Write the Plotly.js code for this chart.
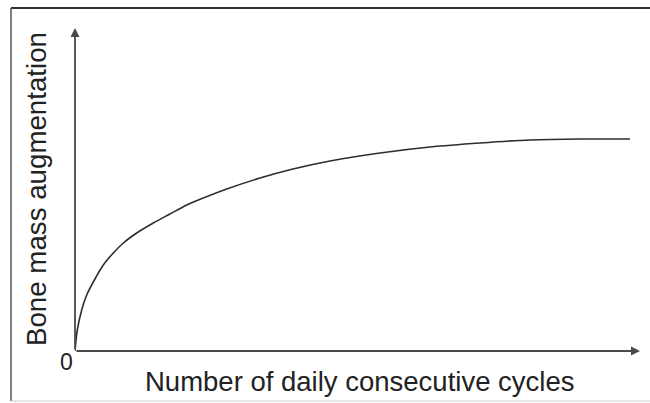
<!DOCTYPE html>
<html>
<head>
<meta charset="utf-8">
<script src="https://cdn.plot.ly/plotly-3.0.1.min.js"></script>
<style>html,body{margin:0;padding:0;background:#fff;}#chart{width:650px;height:403px;}</style>
</head>
<body>
<div id="chart"></div>
<script>
// Data (arbitrary units, no ticks shown)
const cycles    = [0, 2.3, 6.7, 11.7, 18.3, 28.3, 38.3, 48.3, 61.7, 78.3, 95, 111.7, 133.3, 151.7, 185, 218, 255, 305, 355, 405, 455, 505, 555];
const boneMass  = [0, 21, 41, 56, 69, 86, 98, 108, 118, 128, 137, 146, 155, 162, 173, 182, 190, 198, 204, 208, 211, 212, 212];
const xMax = 565;   // arrow tip of x axis
const yMax = 323;   // arrow tip of y axis
const xTitle = "Number of daily consecutive cycles";
const yTitle = "Bone mass augmentation";
const originLabel = "0";

const FONT = "Liberation Sans, Arial, Helvetica, sans-serif";
const axisColor = "#4a4a4a";

const trace = {
  x: cycles, y: boneMass, type: "scatter", mode: "lines",
  line: {color: "#2e2e2e", width: 1.6, shape: "spline", smoothing: 0.8},
  cliponaxis: false, hoverinfo: "skip"
};

const layout = {
  width: 650, height: 403,
  margin: {l: 75, r: 10, t: 28, b: 52, pad: 0},
  paper_bgcolor: "#fff", plot_bgcolor: "#fff",
  showlegend: false,
  xaxis: {range: [0, xMax], visible: false, fixedrange: true},
  yaxis: {range: [0, yMax], visible: false, fixedrange: true},
  font: {family: FONT, color: "#222"},
  annotations: [
    // x axis arrow
    {x: xMax, y: 0, ax: 0, ay: 0, xref: "x", yref: "y", axref: "x", ayref: "y",
     text: "", showarrow: true, arrowhead: 2, arrowsize: 1, arrowwidth: 1.8, arrowcolor: axisColor},
    // y axis arrow
    {x: 0, y: yMax, ax: 0, ay: 0, xref: "x", yref: "y", axref: "x", ayref: "y",
     text: "", showarrow: true, arrowhead: 2, arrowsize: 1, arrowwidth: 1.8, arrowcolor: axisColor},
    {x: (360-75)/565, y: (351-381)/323, xref: "paper", yref: "paper", xanchor: "center", yanchor: "middle",
     text: xTitle, showarrow: false, font: {size: 27.5, family: FONT, color: "#222"}},
    {x: (36-75)/565, y: (351-189)/323, xref: "paper", yref: "paper", xanchor: "center", yanchor: "middle",
     text: yTitle, textangle: -90, showarrow: false, font: {size: 27.7, family: FONT, color: "#222"}},
    {x: (66-75)/565, y: (351-362)/323, xref: "paper", yref: "paper", xanchor: "center", yanchor: "middle",
     text: originLabel, showarrow: false, font: {size: 23, family: FONT, color: "#222"}}
  ],
  shapes: [
    // frame
    {type: "line", xref: "paper", yref: "paper", x0: (11-75)/565, x1: (650-75)/565, y0: (351-8)/323, y1: (351-8)/323,
     line: {color: "#333", width: 2}},
    {type: "line", xref: "paper", yref: "paper", x0: (11-75)/565, x1: (11-75)/565, y0: (351-8)/323, y1: (351-401)/323,
     line: {color: "#555", width: 1.5}},
    {type: "line", xref: "paper", yref: "paper", x0: (11-75)/565, x1: (650-75)/565, y0: (351-401)/323, y1: (351-401)/323,
     line: {color: "#ccc", width: 1}}
  ]
};

Plotly.newPlot("chart", [trace], layout, {staticPlot: true, displayModeBar: false});
</script>
</body>
</html>
